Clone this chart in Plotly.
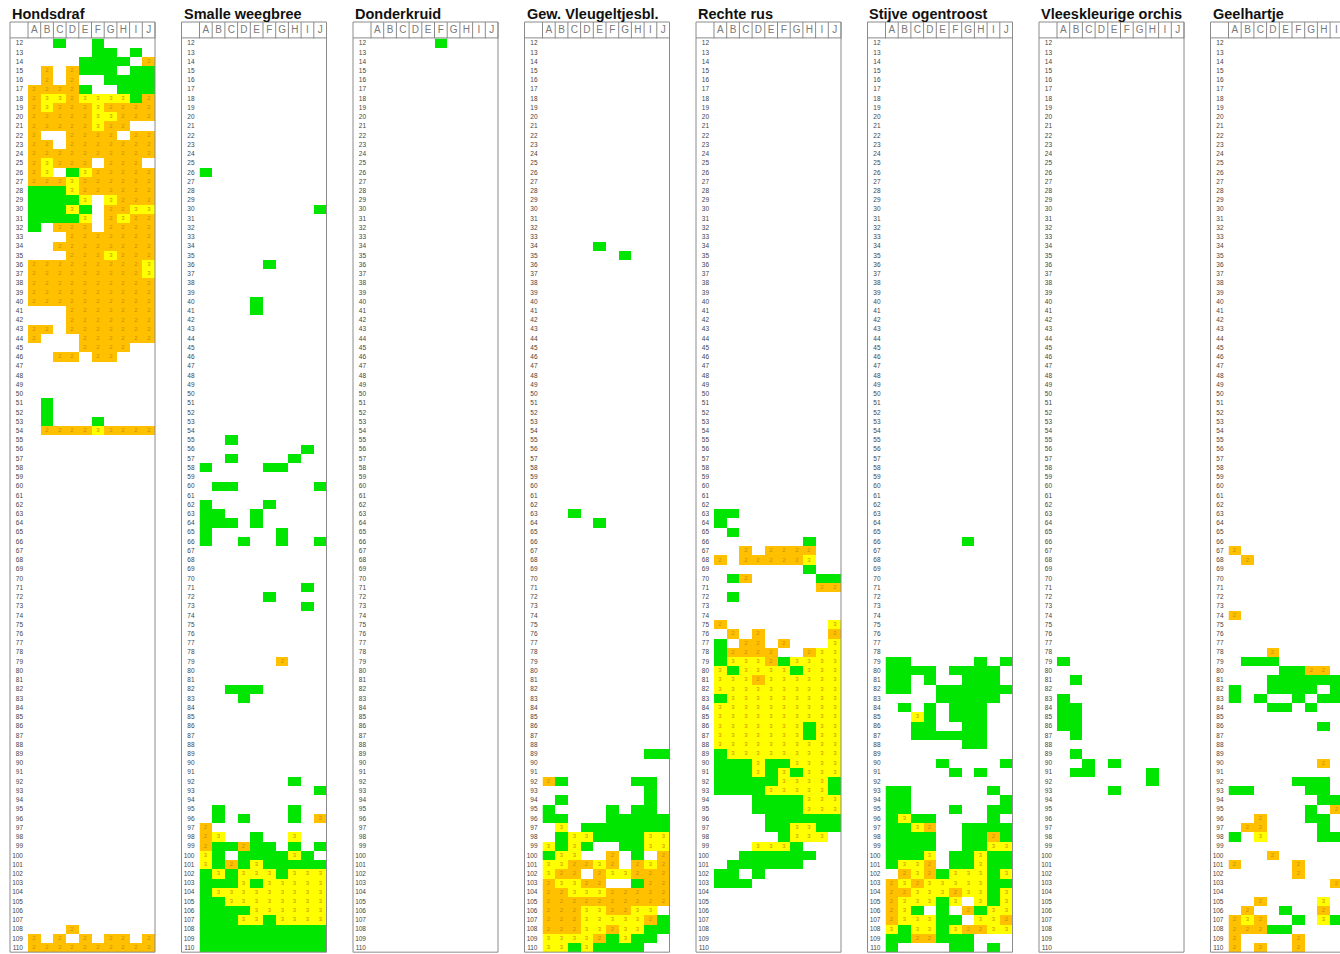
import plotly.graph_objects as go

W, H = 1340, 954

TITLES = ["Hondsdraf", "Smalle weegbree", "Donderkruid", "Gew. Vleugeltjesbl.",
          "Rechte rus", "Stijve ogentroost", "Vleeskleurige orchis", "Geelhartje"]
COLUMNS = list("ABCDEFGHIJ")
ROWS = list(range(12, 111))

# cell codes per row: '.' empty, '1' green, '2' orange (label 2), '3' yellow (label 3)
HONDSDRAF = {
    12: "..1..1....", 13: ".....11.1.", 14: "....1111.2", 15: ".2.2111.11",
    16: ".2.2..1111", 17: "22221..111", 18: "2332333312", 19: "2322232222",
    20: "2222233222", 21: "22222322..", 22: "2..2222.22", 23: "22.2222222",
    24: "2222222222", 25: "23222.222.", 26: "23.1322222", 27: "2223222222",
    28: "1113222222", 29: "11113.3222", 30: "11131.2233", 31: "11113.2322",
    32: "1.222.2222", 33: "...2222222", 34: "..22222222", 35: "...2223222",
    36: "2222222223", 37: "2222222223", 38: "2222222222", 39: "2222222222",
    40: "2222222222", 41: "...2222222", 42: "...2222222", 43: "22.2222222",
    44: "2...222222", 45: "....2222..", 46: "..22.22...",
    51: ".1........", 52: ".1........", 53: ".1...1....", 54: ".222232222",
    108: "...2......", 109: "2.2.2.22.2", 110: "2222222222",
}
SMALLE_WEEGBREE = {
    26: "1.........", 30: ".........1", 36: ".....1....", 40: "....1.....",
    41: "....1.....", 55: "..1.......", 56: "........1.", 57: "..1....1..",
    58: "1....11...", 60: ".11......1", 62: "1....1....", 63: "11..1.....",
    64: "111.1.....", 65: "1.....1...", 66: "1..1..1..1", 71: "........1.",
    72: ".....1....", 73: "........1.", 79: "......2...", 82: "..111.....",
    83: "...1......", 92: ".......1..", 93: ".........1", 95: ".1.....1..",
    96: ".1.1...1.2", 97: "2.........", 98: "23..1..3..", 99: "211211.1.1",
    100: "31.111131.", 101: "3121311111", 102: "1313331333", 103: "1113133333",
    104: "1333333333", 105: "1133333333", 106: "1111333333", 107: "1113313333",
    108: "1111111111", 109: "1111111111", 110: "1111111111",
}
DONDERKRUID = {
    12: ".....1....",
}
GEW_VLEUGELTJESBL = {
    34: "....1.....", 35: "......1...", 63: "..1.......", 64: "....1.....",
    89: "........11", 92: "21.....11.", 93: "........1.", 94: ".1......1.",
    95: "1....1.11.", 96: "11...11111", 97: ".3.1111111", 98: ".133111133",
    99: "3131..1133", 100: "133..2.1.2", 101: "332232.232", 102: "322.233222",
    103: "23322..122", 104: "2233322222", 105: "2222222222", 106: "222332233.",
    107: "2223333321", 108: "2223323311", 109: "333321311.", 110: "33131111..",
}
RECHTE_RUS = {
    63: "11........", 64: "1.........", 65: ".1........", 66: ".......1..",
    67: "..2.2222..", 68: "2.222223..", 69: ".......1..", 70: ".12.....11",
    71: "........22", 72: ".1........", 75: "2........3", 76: ".2.2.....2",
    77: "1.22.2...3", 78: "12222..233", 79: "1333213333", 80: "3133331333",
    81: "3332333333", 82: "3333333333", 83: "1333333333", 84: "3333333333",
    85: "3333333333", 86: "3333333133", 87: "3333333133", 88: "3333333333",
    89: "1333333333", 90: "1113113333", 91: "1113131333", 92: "1111133331",
    93: "1111333331", 94: "...1111333", 95: "...1111333", 96: "....111111",
    97: "....113311", 98: ".....1333.", 99: "...3331...", 100: "..111111..",
    101: ".111111...", 102: "11.1......", 103: "111.......",
}
STIJVE_OGENTROOST = {
    66: "......1...", 79: "11.....1.1", 80: "1111.1111.", 81: "11.1..111.",
    82: "11..111111", 83: "....11111.", 84: ".1.1.111..", 85: "..31.111..",
    86: "..11..11..", 87: "..111111..", 88: "......11..", 90: "....1....1",
    91: ".....1.1..", 93: "11......1.", 94: "11.......1", 95: "11...1..11",
    96: "1311....1.", 97: "1132..1111", 98: "1111..1121", 99: "1111..1133",
    100: "1113.11311", 101: "1332.11311", 102: ".232133313", 103: "2323333311",
    104: "2233323313", 105: "233313.313", 106: "231.1.2133", 107: "233311.332",
    108: "3133132233", 109: "1122111...", 110: "1....11.1.",
}
VLEESKLEURIGE_ORCHIS = {
    79: "1.........", 81: ".1........", 83: "1.........", 84: "11........",
    85: "11........", 86: "11........", 87: ".1........", 89: ".1........",
    90: "..1.1.....", 91: ".11....1..", 92: ".......1..", 93: "....1.....",
}
GEELHARTJE = {
    67: "2.........", 68: ".2........", 74: "2.........", 78: "...2......",
    79: ".111......", 80: "....1122..", 81: "...111111.", 82: "1..1111.1.",
    83: "1.1..1.11.", 84: "...11.1...", 86: ".......1..", 90: ".......2..",
    92: ".....111..", 93: "11....11..", 94: ".......11.", 95: "......1.2.",
    96: "..2...11..", 97: ".22....1..", 98: "1.3....11.", 100: "...2......",
    101: "2....2....", 102: ".....2....", 103: "........2.", 105: "..2....3..",
    106: ".2..1..2..", 107: "232..1.31.", 108: "22211.....", 109: "2....2....",
    110: "2.2..2....",
}
PANELS = [HONDSDRAF, SMALLE_WEEGBREE, DONDERKRUID, GEW_VLEUGELTJESBL,
          RECHTE_RUS, STIJVE_OGENTROOST, VLEESKLEURIGE_ORCHIS, GEELHARTJE]

GREEN, ORANGE, YELLOW = "#00E600", "#FFC000", "#FFFF00"
CS = [[0, GREEN], [0.25, GREEN], [0.25, ORANGE], [0.75, ORANGE], [0.75, YELLOW], [1, YELLOW]]
LINE = "#8a8a8a"
FONT = "Liberation Sans"

# geometry (pixels)
PANEL_X0 = 10
PANEL_STEP = 171.5
LABEL_W = 18
CELL_W = 12.7
HEADER_TOP = 22
DATA_TOP = 38.4
ROW_H = 9.23
DATA_BOTTOM = DATA_TOP + ROW_H * len(ROWS)


def px(x):
    return x / W


def py(y):
    return 1 - y / H


fig = go.Figure()
shapes, annotations = [], []
for i, (title, data) in enumerate(zip(TITLES, PANELS)):
    z, txt = [], []
    for r in ROWS:
        pat = data.get(r, "." * 10)
        z.append([None if c == "." else int(c) for c in pat])
        txt.append(["" if c in ".1" else c for c in pat])
    n = "" if i == 0 else str(i + 1)
    fig.add_trace(go.Heatmap(
        x=list(range(10)), y=ROWS, z=z, text=txt, texttemplate="%{text}",
        textfont=dict(size=6, color="#C89000", family=FONT),
        colorscale=CS, zmin=1, zmax=3, showscale=False, hoverinfo="skip",
        xaxis="x" + n, yaxis="y" + n, xgap=0, ygap=0))
    left = PANEL_X0 + i * PANEL_STEP
    dl = left + LABEL_W
    dr = dl + 10 * CELL_W
    vis_r = min(dr, W)
    xmax = -0.5 + (vis_r - dl) / CELL_W
    fig.layout["xaxis" + n] = dict(
        domain=[px(dl), px(vis_r)], range=[-0.5, xmax], anchor="y" + n, side="top",
        tickvals=list(range(10)), ticktext=COLUMNS, ticks="", ticklabelstandoff=2,
        tickfont=dict(size=10, color="#7a7a7a", family=FONT),
        showgrid=False, zeroline=False, showline=False, fixedrange=True)
    fig.layout["yaxis" + n] = dict(
        domain=[py(DATA_BOTTOM), py(DATA_TOP)], range=[110.5, 11.5], anchor="x" + n,
        tickvals=ROWS, ticktext=[str(r) for r in ROWS], ticks="", ticklabelstandoff=4,
        tickfont=dict(size=6.5, color="#444444", family=FONT),
        showgrid=False, zeroline=False, showline=False, fixedrange=True)
    # panel frame and header boxes
    shapes.append(dict(type="rect", xref="paper", yref="paper",
                       x0=px(left), x1=px(dr), y0=py(DATA_BOTTOM), y1=py(HEADER_TOP),
                       line=dict(color=LINE, width=1)))
    shapes.append(dict(type="line", xref="paper", yref="paper",
                       x0=px(left), x1=px(dr), y0=py(DATA_TOP - 0.5), y1=py(DATA_TOP - 0.5),
                       line=dict(color=LINE, width=1)))
    for k in range(11):
        xx = dl + k * CELL_W
        shapes.append(dict(type="line", xref="paper", yref="paper",
                           x0=px(xx), x1=px(xx), y0=py(DATA_TOP), y1=py(HEADER_TOP),
                           line=dict(color=LINE, width=1)))
    annotations.append(dict(text="<b>" + title + "</b>", xref="paper", yref="paper",
                            x=px(left), y=py(14), xanchor="left", yanchor="middle",
                            showarrow=False, font=dict(size=14.5, color="#111111", family=FONT)))

fig.update_layout(width=W, height=H, margin=dict(l=0, r=0, t=0, b=0),
                  paper_bgcolor="white", plot_bgcolor="white",
                  shapes=shapes, annotations=annotations, showlegend=False)

fig.write_html("out.html", config={"displayModeBar": False},
               post_script="document.body.style.margin='0';document.body.style.overflow='hidden';")
